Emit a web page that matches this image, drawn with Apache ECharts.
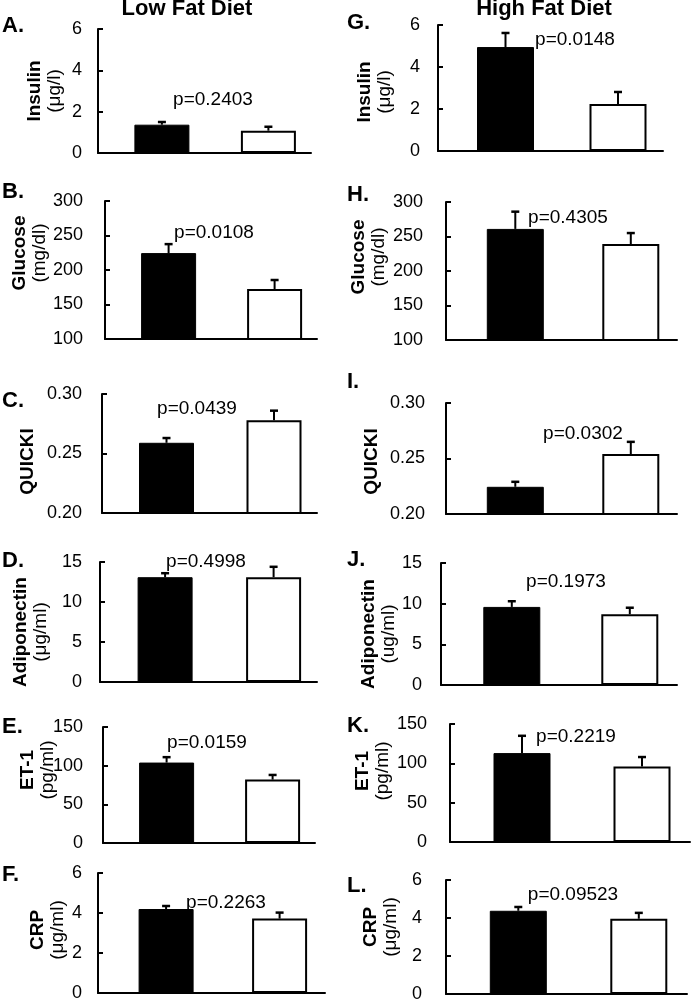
<!DOCTYPE html>
<html><head><meta charset="utf-8">
<script src="https://cdn.jsdelivr.net/npm/echarts@6/dist/echarts.min.js"></script>
<style>html,body{margin:0;padding:0;background:#fff}#c{width:693px;height:1003px}</style>
</head><body><div id="c"></div>
<script>
// ---- data ----
const columnTitles = ['Low Fat Diet', 'High Fat Diet'];
const panelLetters = ['A.', 'B.', 'C.', 'D.', 'E.', 'F.', 'G.', 'H.', 'I.', 'J.', 'K.', 'L.'];
const measures = ['Insulin', 'Glucose', 'QUICKI', 'Adiponectin', 'ET-1', 'CRP',
                  'Insulin', 'Glucose', 'QUICKI', 'Adiponectin', 'ET-1', 'CRP'];
const units = ['(μg/l)', '(mg/dl)', '', '(μg/ml)', '(pg/ml)', '(μg/ml)',
               '(μg/l)', '(mg/dl)', '', '(ug/ml)', '(pg/ml)', '(μg/ml)'];
const groups = [1, 2];                 // black bar, white bar
const blackMean = [1.37, 224.5, 0.259, 13.1, 104, 4.2,   4.95, 261, 0.2245, 9.6, 113, 4.38];
const blackErr  = [0.13, 13,    0.004, 0.5,  7,   0.15,  0.67, 25,  0.0045, 0.7, 22,  0.2];
const whiteMean = [1.08, 172.5, 0.278, 13.1, 82,  3.72,  2.24, 239, 0.254,  8.7, 96,  3.96];
const whiteErr  = [0.19, 13,    0.008, 1.3,  6,   0.3,   0.57, 16,  0.011,  0.8, 12,  0.31];
const pTexts = ['p=0.2403', 'p=0.0108', 'p=0.0439', 'p=0.4998', 'p=0.0159', 'p=0.2263',
                'p=0.0148', 'p=0.4305', 'p=0.0302', 'p=0.1973', 'p=0.2219', 'p=0.09523'];
const yMin  = [0, 100, 0.20, 0, 0, 0,  0, 100, 0.20, 0, 0, 0];
const yMax  = [6, 300, 0.30, 15, 150, 6,  6, 300, 0.30, 15, 150, 6];
const yStep = [2, 50, 0.05, 5, 50, 2,  2, 50, 0.05, 5, 50, 2];
const yDecimals = [0, 0, 2, 0, 0, 0,  0, 0, 2, 0, 0, 0];

// ---- layout (pixels) ----
const gridBox = [ // left, top, width, height
  [98, 29, 213, 124], [105, 201, 212, 138], [102, 394, 215, 119],
  [100, 562, 217, 120], [103, 727, 212, 116], [98, 873, 227, 120],
  [438, 25, 225, 126], [446, 202, 231, 138], [446, 403, 231, 111],
  [441, 563, 236, 122], [450, 724, 240, 118], [446, 880, 241, 115]
];
const labelMargin = [16, 22, 20, 18, 20, 16, 18, 23, 21, 19, 23, 24];
const nameGap = [33, 55, 64, 49, 45, 30, 43, 57, 64, 42, 57, 45];
const nameShift = [0, -17, 8, 10, -15, -3, 4, -14, 3, 10, -12, -10]; // + = down
const pPos = [[213, 100], [214, 233], [197, 409], [206, 562], [207, 743], [226, 903],
              [575, 40], [568, 218], [583, 434], [566, 582], [576, 737], [573, 895]];
const letterPos = [[2, 26], [2, 192], [2, 401], [2, 561], [2, 727], [2, 875],
                   [347, 23], [347, 195], [347, 382], [347, 560], [347, 726], [347, 886]];
const titlePos = [[187, 9], [544, 9]];

const FONT = "'Liberation Sans', Arial, Helvetica, sans-serif";
const chart = echarts.init(document.getElementById('c'), null, {renderer: 'canvas'});

const grids = [], xAxes = [], yAxes = [], series = [], graphics = [];
function errRender(params, api) {
  const x = api.value(0), lo = api.value(1), hi = api.value(2);
  const p0 = api.coord([x, lo]), p1 = api.coord([x, hi]);
  const cap = 4;
  return {type: 'group', children: [
    {type: 'line', shape: {x1: p0[0], y1: p0[1], x2: p1[0], y2: p1[1]}, style: {stroke: '#000', lineWidth: 2}},
    {type: 'line', shape: {x1: p1[0] - cap, y1: p1[1], x2: p1[0] + cap, y2: p1[1]}, style: {stroke: '#000', lineWidth: 2.5}}
  ]};
}
for (let i = 0; i < 12; i++) {
  const b = gridBox[i];
  grids.push({left: b[0], top: b[1], width: b[2], height: b[3]});
  xAxes.push({gridIndex: i, type: 'value', min: 0.4, max: 2.4,
    axisLine: {show: true, onZero: false, lineStyle: {color: '#000', width: 2}},
    axisTick: {show: false}, axisLabel: {show: false}, splitLine: {show: false}});
  const dec = yDecimals[i];
  const nm = units[i] ? '{b|' + measures[i] + '}\n{u|' + units[i] + '}' : '{b|' + measures[i] + '}';
  const s = nameShift[i];
  const pad = s >= 0 ? [0, 2 * s, 0, 0] : [0, 0, 0, -2 * s];
  yAxes.push({gridIndex: i, type: 'value', min: yMin[i], max: yMax[i], interval: yStep[i],
    axisLine: {show: true, onZero: false, lineStyle: {color: '#000', width: 2}},
    axisTick: {show: true, inside: true, length: 5, lineStyle: {color: '#000', width: 2}},
    axisLabel: {color: '#000', fontSize: 18, fontFamily: FONT, margin: labelMargin[i],
      formatter: v => Number(v).toFixed(dec)},
    splitLine: {show: false},
    name: nm, nameLocation: 'middle', nameRotate: 90, nameGap: nameGap[i], nameMoveOverlap: false,
    nameTextStyle: {padding: pad, rich: {
      b: {fontWeight: 'bold', fontSize: 19, fontFamily: FONT, color: '#000', lineHeight: 20},
      u: {fontSize: 19, fontFamily: FONT, color: '#000', lineHeight: 20}
    }}
  });
  const bw = i < 6 ? 55 : 57;
  series.push({type: 'bar', xAxisIndex: i, yAxisIndex: i, barWidth: bw, clip: true, silent: true,
    data: [
      {value: [groups[0], blackMean[i]], itemStyle: {color: '#000', borderColor: '#000', borderWidth: 1}},
      {value: [groups[1], whiteMean[i]], itemStyle: {color: '#fff', borderColor: '#000', borderWidth: 2}}
    ]});
  series.push({type: 'custom', xAxisIndex: i, yAxisIndex: i, silent: true, z: 3,
    renderItem: errRender,
    data: [[groups[0], blackMean[i], blackMean[i] + blackErr[i]],
           [groups[1], whiteMean[i], whiteMean[i] + whiteErr[i]]]});
  graphics.push({type: 'text', x: pPos[i][0], y: pPos[i][1], z: 10,
    style: {text: pTexts[i], font: '19px ' + FONT, fill: '#000',
      align: 'center', verticalAlign: 'middle', textAlign: 'center', textVerticalAlign: 'middle'}});
  graphics.push({type: 'text', x: letterPos[i][0], y: letterPos[i][1], z: 10,
    style: {text: panelLetters[i], font: 'bold 22px ' + FONT, fill: '#000',
      align: 'left', verticalAlign: 'middle', textAlign: 'left', textVerticalAlign: 'middle'}});
}
for (let k = 0; k < 2; k++) {
  graphics.push({type: 'text', x: titlePos[k][0], y: titlePos[k][1], z: 10,
    style: {text: columnTitles[k], font: 'bold 22px ' + FONT, fill: '#000',
      align: 'center', verticalAlign: 'middle', textAlign: 'center', textVerticalAlign: 'middle'}});
}
chart.setOption({
  animation: false,
  backgroundColor: '#fff',
  grid: grids, xAxis: xAxes, yAxis: yAxes, series: series,
  graphic: {elements: graphics}
});
</script></body></html>
